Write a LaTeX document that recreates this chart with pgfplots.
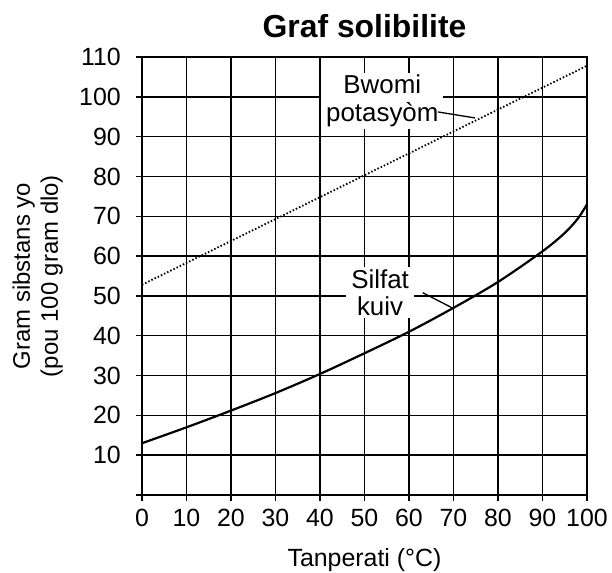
\documentclass[border=0pt]{standalone}
\usepackage{fontspec}
\setmainfont{Liberation Sans}
\usepackage{pgfplots}
\pgfplotsset{compat=1.18}
\begin{document}
\begin{tikzpicture}
\useasboundingbox (-142bp,-78bp) rectangle (470bp,495bp);
\begin{axis}[
  at={(0,0)}, anchor=south west,
  scale only axis, width=445bp, height=438bp,
  xmin=0, xmax=100, ymin=0, ymax=110,
  xtick={0,10,...,100}, ytick={0,10,...,110},
  yticklabels={,10,20,30,40,50,60,70,80,90,100,110},
  grid=major, major grid style={black, line width=1.5bp},
  axis line style={black, line width=1.5bp},
  tick style={black, line width=1.5bp},
  tick align=outside, major tick length=6bp,
  xtick pos=bottom, ytick pos=left,
  /pgf/number format/assume math mode=true,
  ticklabel style={font=\fontsize{25}{28}\selectfont},
  xticklabel style={inner sep=2bp, yshift=-6bp},
  yticklabel style={inner sep=3bp, xshift=-12bp},
  title={Graf solibilite},
  title style={font=\fontsize{32}{36}\selectfont\bfseries, yshift=10bp},
  xlabel={Tanperati (°C)},
  xlabel style={font=\fontsize{25}{28}\selectfont, yshift=-16bp},
  ylabel={Gram sibstans yo\\(pou 100 gram dlo)},
  ylabel style={font=\fontsize{24}{28}\selectfont, align=center, yshift=10bp},
  clip=false,
]
\addplot[black, line width=1.8bp, dash pattern=on 1.5bp off 2bp] coordinates {(0,52.8) (100,107.8)};
\addplot[black, line width=2.2bp, smooth, tension=0.5] coordinates {
(0,13) (10,17) (20,21.2) (30,25.6) (40,30.4) (50,35.6) (60,41) (70,47) (80,53.5) (90,61.2) (95,65.8) (98,69.5) (100,73)};
\node[fill=white, align=center, inner xsep=5bp, inner ysep=2bp, font=\fontsize{26}{28}\selectfont] at (axis cs:54,99) {Bwomi\\potasyòm};
\draw[black, line width=1.3bp] (axis cs:66.5,96.2) -- (axis cs:74.8,94.7);
\node[fill=white, align=center, inner xsep=5bp, inner ysep=2bp, font=\fontsize{26}{28}\selectfont] at (axis cs:53.5,50.8) {Silfat\\kuiv};
\draw[black, line width=1.3bp] (axis cs:63.1,50.8) -- (axis cs:69.7,47);
\end{axis}
\end{tikzpicture}
\end{document}
